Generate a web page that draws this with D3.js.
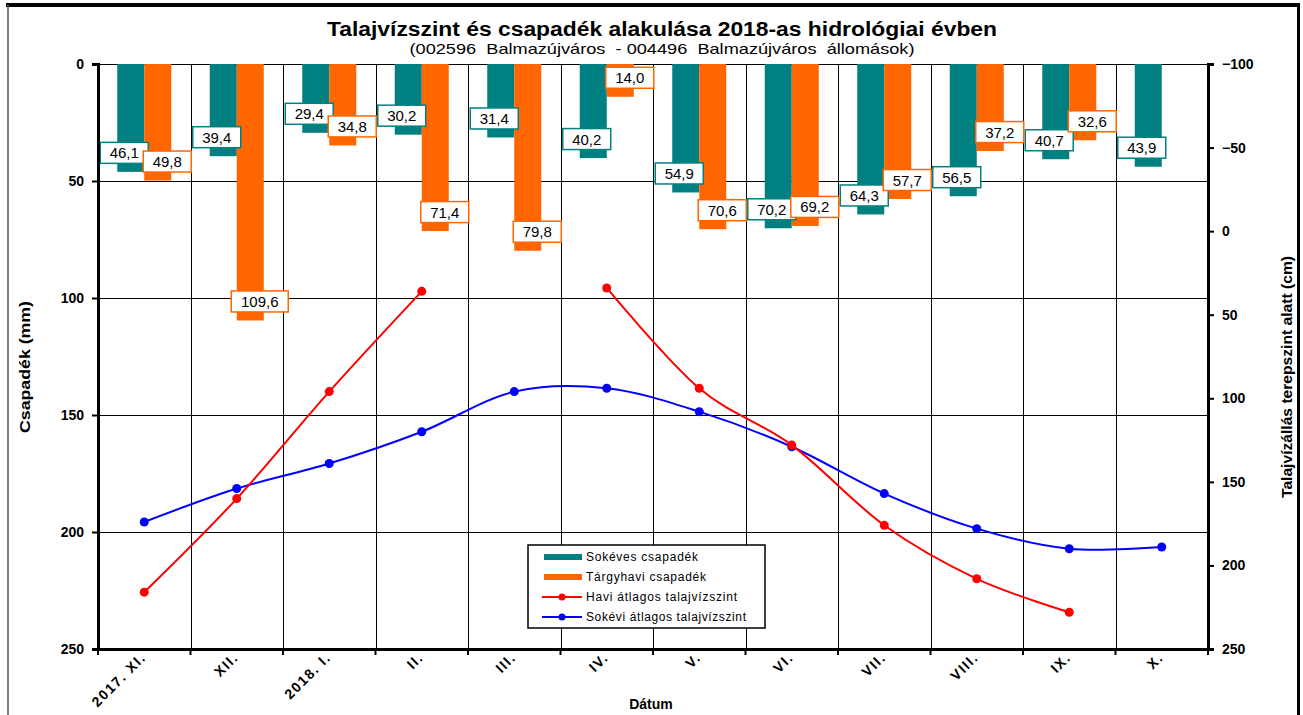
<!DOCTYPE html>
<html>
<head>
<meta charset="utf-8">
<script src="https://cdn.jsdelivr.net/npm/d3@7"></script>
<style>
  body { margin: 0; background: #fff; }
  text { font-family: "Liberation Sans", Arial, sans-serif; }
</style>
</head>
<body>
<svg id="chart" width="1303" height="715"></svg>
<script>
var months = ['2017. XI.', 'XII.', '2018. I.', 'II.', 'III.', 'IV.', 'V.', 'VI.', 'VII.', 'VIII.', 'IX.', 'X.'];
var sokevesCsap = [46.1, 39.4, 29.4, 30.2, 31.4, 40.2, 54.9, 70.2, 64.3, 56.5, 40.7, 43.9];
var targyhaviCsap = [49.8, 109.6, 34.8, 71.4, 79.8, 14.0, 70.6, 69.2, 57.7, 37.2, 32.6, null];
var haviTalaj = [216, 160, 96, 36, null, 34, 94, 128, 176, 208, 228, null];
var sokeviTalaj = [174, 154, 139, 120, 96, 94, 108, 129, 157, 178, 190, 189];
var leftTicks = [0, 50, 100, 150, 200, 250];
var rightTicks = [-100, -50, 0, 50, 100, 150, 200, 250];

var teal = '#008080', orange = '#FF6600';

var svg = d3.select('#chart');
var pLeft = 98, pRight = 1208, pTop = 64, pBottom = 649;

// frame
svg.append('line').attr('x1', 6).attr('x2', 1300).attr('y1', 5).attr('y2', 5).attr('stroke', '#000').attr('stroke-width', 4);
svg.append('line').attr('x1', 8).attr('x2', 8).attr('y1', 5).attr('y2', 715).attr('stroke', '#555').attr('stroke-width', 1.5);
svg.append('line').attr('x1', 1298.5).attr('x2', 1298.5).attr('y1', 5).attr('y2', 715).attr('stroke', '#000').attr('stroke-width', 3);

var x = d3.scaleBand().domain(months).range([pLeft, pRight]);
var yL = d3.scaleLinear().domain([0, 250]).range([pTop, pBottom]);
var yR = d3.scaleLinear().domain([-100, 250]).range([pTop, pBottom]);

// grid
var g = svg.append('g');
g.selectAll('.hg').data(leftTicks.slice(0, 5)).enter().append('line')
  .attr('x1', pLeft).attr('x2', pRight).attr('y1', d => yL(d) + 0.5).attr('y2', d => yL(d) + 0.5)
  .attr('stroke', '#000').attr('stroke-width', 1);
g.selectAll('.vg').data(months.slice(1)).enter().append('line')
  .attr('x1', d => Math.round(x(d)) + 0.5).attr('x2', d => Math.round(x(d)) + 0.5).attr('y1', pTop).attr('y2', pBottom)
  .attr('stroke', '#000').attr('stroke-width', 1);

// bars
var bw = 27;
var bars = svg.append('g');
bars.selectAll('.b1').data(sokevesCsap).enter().append('rect')
  .attr('x', (d, i) => x(months[i]) + x.bandwidth() / 2 - bw).attr('y', pTop)
  .attr('width', bw).attr('height', d => yL(d) - pTop).attr('fill', teal);
targyhaviCsap.forEach(function (d, i) {
  if (d == null) return;
  bars.append('rect').attr('x', x(months[i]) + x.bandwidth() / 2).attr('y', pTop)
    .attr('width', bw).attr('height', yL(d) - pTop).attr('fill', orange);
});

// lines
var curve = d3.curveCatmullRom.alpha(0);
function drawSeries(vals, color) {
  var pts = vals.map((v, i) => ({ x: x(months[i]) + x.bandwidth() / 2, v: v }));
  var line = d3.line().defined(d => d.v != null).x(d => d.x).y(d => yR(d.v)).curve(curve);
  svg.append('path').datum(pts).attr('d', line).attr('fill', 'none').attr('stroke', color).attr('stroke-width', 2);
  svg.append('g').selectAll('circle').data(pts.filter(d => d.v != null)).enter().append('circle')
    .attr('cx', d => d.x).attr('cy', d => yR(d.v)).attr('r', 4.5).attr('fill', color);
}
drawSeries(sokeviTalaj, '#0000FF');
drawSeries(haviTalaj, '#FF0000');

// data labels
function drawLabels(vals, color, dx) {
  var lg = svg.append('g');
  vals.forEach(function (v, i) {
    if (v == null) return;
    var cx = x(months[i]) + x.bandwidth() / 2 + dx;
    var cy = yL(v) - 19;
    var t = v.toFixed(1).replace('.', ',');
    var w = t.length > 4 ? 57 : 48;
    lg.append('rect').attr('x', cx - w / 2).attr('y', cy - 10.5).attr('width', w).attr('height', 21)
      .attr('fill', '#fff').attr('stroke', color).attr('stroke-width', 1.5);
    lg.append('text').attr('x', cx).attr('y', cy + 5.5).attr('text-anchor', 'middle')
      .attr('font-size', 15).attr('fill', '#000').text(t);
  });
}
drawLabels(sokevesCsap, teal, -20);
drawLabels(targyhaviCsap, orange, 23);

// axes
var axL = svg.append('g').attr('transform', 'translate(' + pLeft + ',0)')
  .call(d3.axisLeft(yL).tickValues(leftTicks).tickSize(6).tickPadding(8));
var axR = svg.append('g').attr('transform', 'translate(' + pRight + ',0)')
  .call(d3.axisRight(yR).tickValues(rightTicks).tickSize(6).tickPadding(8));
var axB = svg.append('g').attr('transform', 'translate(0,' + pBottom + ')')
  .call(d3.axisBottom(x).tickSize(0).tickPadding(10));
[axL, axR, axB].forEach(function (a) {
  a.select('.domain').attr('stroke', '#000').attr('stroke-width', 3);
  a.selectAll('.tick line').attr('stroke', '#000').attr('stroke-width', 2);
  a.selectAll('text').attr('font-family', '"Liberation Sans", Arial, sans-serif')
    .attr('font-weight', 'bold').attr('font-size', 14).attr('fill', '#000');
});
axB.selectAll('.tick text').attr('text-anchor', 'end').attr('font-size', 14).attr('letter-spacing', 1.5)
  .attr('transform', 'translate(-1,6) rotate(-45)').attr('dy', '0.35em').attr('y', 0).attr('x', 0);
// boundary ticks on bottom axis
svg.append('g').selectAll('line').data(months.concat(['end'])).enter().append('line')
  .attr('x1', (d, i) => pLeft + i * x.bandwidth()).attr('x2', (d, i) => pLeft + i * x.bandwidth())
  .attr('y1', pBottom).attr('y2', pBottom + 6).attr('stroke', '#000').attr('stroke-width', 2);

// titles
svg.append('text').attr('x', 662).attr('y', 36).attr('text-anchor', 'middle')
  .attr('font-size', 20).attr('font-weight', 'bold').attr('textLength', 670).attr('lengthAdjust', 'spacingAndGlyphs')
  .text('Talajvízszint és csapadék alakulása 2018-as hidrológiai évben');
svg.append('text').attr('x', 662).attr('y', 54).attr('text-anchor', 'middle')
  .attr('font-size', 15).attr('textLength', 505).attr('lengthAdjust', 'spacingAndGlyphs')
  .attr('xml:space', 'preserve').text('(002596  Balmazújváros  - 004496  Balmazújváros  állomások)');
svg.append('text').attr('transform', 'translate(30,367) rotate(-90)').attr('text-anchor', 'middle')
  .attr('font-size', 15).attr('font-weight', 'bold').attr('textLength', 132).attr('lengthAdjust', 'spacingAndGlyphs')
  .text('Csapadék (mm)');
svg.append('text').attr('transform', 'translate(1292,377) rotate(-90)').attr('text-anchor', 'middle')
  .attr('font-size', 14).attr('font-weight', 'bold').attr('textLength', 242).attr('lengthAdjust', 'spacingAndGlyphs')
  .text('Talajvízállás terepszint alatt (cm)');
svg.append('text').attr('x', 651).attr('y', 709).attr('text-anchor', 'middle')
  .attr('font-size', 14).attr('font-weight', 'bold').text('Dátum');

// legend
var leg = svg.append('g').attr('transform', 'translate(528,545)');
leg.append('rect').attr('width', 237).attr('height', 83).attr('fill', '#fff').attr('stroke', '#000').attr('stroke-width', 1.5);
var legItems = [
  { name: 'Sokéves csapadék', color: teal, type: 'bar', len: 112 },
  { name: 'Tárgyhavi csapadék', color: orange, type: 'bar', len: 120 },
  { name: 'Havi átlagos talajvízszint', color: '#FF0000', type: 'line', len: 151 },
  { name: 'Sokévi átlagos talajvízszint', color: '#0000FF', type: 'line', len: 160 }
];
legItems.forEach(function (it, i) {
  var yy = 12 + i * 20;
  if (it.type === 'bar') {
    leg.append('rect').attr('x', 16).attr('y', yy - 3).attr('width', 38).attr('height', 6).attr('fill', it.color);
  } else {
    leg.append('line').attr('x1', 14).attr('x2', 54).attr('y1', yy).attr('y2', yy).attr('stroke', it.color).attr('stroke-width', 2);
    leg.append('circle').attr('cx', 34).attr('cy', yy).attr('r', 3.5).attr('fill', it.color);
  }
  leg.append('text').attr('x', 58).attr('y', yy + 4).attr('font-size', 12)
    .attr('textLength', it.len).attr('lengthAdjust', 'spacing').text(it.name);
});
</script>
</body>
</html>
